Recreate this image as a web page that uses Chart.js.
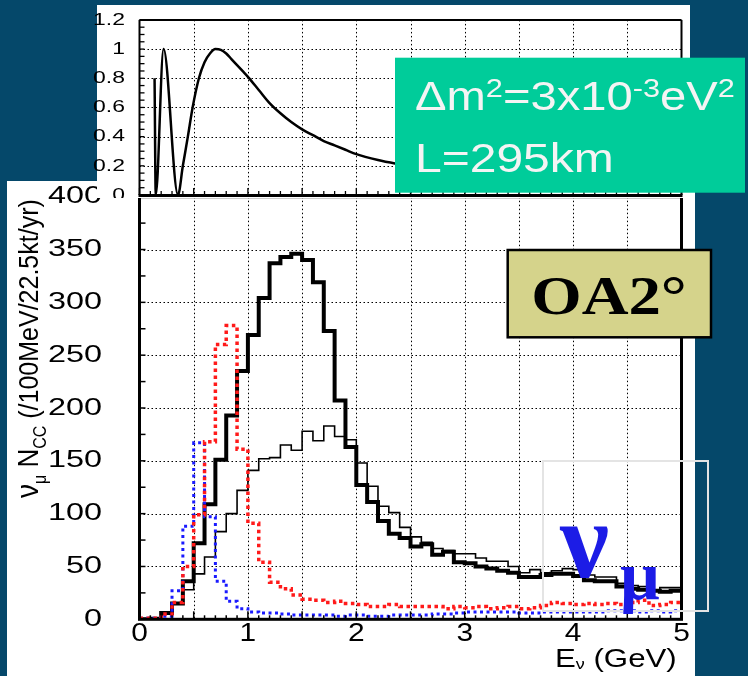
<!DOCTYPE html>
<html>
<head>
<meta charset="utf-8">
<script src="https://cdn.jsdelivr.net/npm/chart.js@4/dist/chart.umd.min.js"></script>
<style>
  html, body { margin: 0; padding: 0; background: #05486a; }
  #wrap { position: relative; width: 748px; height: 676px; overflow: hidden; }
  canvas { position: absolute; left: 0; }
  #spectrum { top: 181px; }
  #prob { top: 0; }
</style>
</head>
<body>
<div id="wrap">
  <canvas id="spectrum" width="748" height="495"></canvas>
  <canvas id="prob" width="748" height="198"></canvas>
</div>
<script>
// oscillation probability
const oscE = [0.139, 0.150, 0.222, 0.355, 0.40, 0.446, 0.49, 0.548, 0.60, 0.65, 0.70, 0.75, 0.80, 0.85, 0.90, 0.95,
  1.00, 1.10, 1.20, 1.30, 1.40, 1.50, 1.60, 1.70, 1.80, 1.90, 2.00, 2.20, 2.40, 2.70, 3.00, 3.50, 4.00, 4.50, 5.00];
const oscP = [0.80, 0.00, 1.00, 0.00, 0.20, 0.40, 0.60, 0.80, 0.91, 0.97, 1.00, 0.995, 0.97, 0.93, 0.89, 0.85,
  0.81, 0.72, 0.63, 0.56, 0.50, 0.45, 0.41, 0.37, 0.34, 0.31, 0.28, 0.24, 0.21, 0.17, 0.14, 0.10, 0.08, 0.06, 0.05];

// spectra per 100 MeV bin, 0 - 5 GeV
const thickSpec = [0, 0.5, 6, 15, 36, 72, 109, 151, 193, 235,
  269, 304, 337, 343, 346, 340, 319, 273, 207, 163,
  127, 111, 93, 81, 77, 69, 71, 61, 64, 54,
  53, 50, 48, 46, 44, 40, 40, 42, 43, 43,
  41, 37, 36, 36, 31, 29, 28, 27, 26, 27];
const thinSpec = [0, 0.5, 5, 15, 28, 43, 59, 83, 100, 122,
  141, 152, 153, 165, 160, 178, 169, 183, 173, 170,
  148, 126, 107, 101, 87, 78, 73, 67, 65, 62,
  62, 58, 55, 55, 50, 44, 47, 44, 46, 48,
  47, 42, 40, 40, 34, 32, 31, 28, 30, 30];
const redSpec = [1, 1, 5, 16, 50, 99, 168, 260, 278, 161,
  91, 54, 35, 29, 23, 19, 18, 16, 17, 15,
  14, 12, 12, 14, 12, 12, 12, 12, 10, 12,
  11, 12, 10, 11, 12, 10, 11, 13, 16, 15,
  14, 15, 14, 15, 14, 16, 18, 13, 14, 16];
const blueSpec = [1, 1, 3, 27, 88, 167, 97, 36, 17, 10,
  7, 6, 6, 5, 4, 4, 4, 4, 3, 4,
  4, 3, 3, 4, 4, 4, 4, 5, 5, 6,
  7, 7, 7, 7, 7, 6, 6, 7, 7, 7,
  7, 7, 7, 8, 8, 8, 7, 8, 7, 8];

const specYTicks = [0, 50, 100, 150, 200, 250, 300, 350, 400];
const specXTicks = [0, 1, 2, 3, 4, 5];
const probYTicks = [0, 0.2, 0.4, 0.6, 0.8, 1, 1.2];

const binEdges = thickSpec.map((_, i) => i / 10);

const FONT = '"Liberation Sans", Arial, sans-serif';
const SERIF = '"Liberation Serif", "Times New Roman", serif';

function steps(values) {
  const pts = values.map((v, i) => ({ x: binEdges[i], y: v }));
  pts.push({ x: 5, y: values[values.length - 1] });
  return pts;
}

function line(ctx, x1, y1, x2, y2) {
  ctx.beginPath();
  ctx.moveTo(x1, y1);
  ctx.lineTo(x2, y2);
  ctx.stroke();
}

function stretchText(ctx, str, x, y, font, align, sx) {
  ctx.save();
  ctx.font = font;
  ctx.textAlign = align;
  ctx.textBaseline = 'middle';
  ctx.translate(x, y);
  ctx.scale(sx, 1);
  ctx.fillText(str, 0, 0);
  ctx.restore();
}

// text made of runs (subscripts, superscripts), left aligned on a baseline
function runs(ctx, parts, sx) {
  let cx = 0;
  ctx.save();
  ctx.scale(sx, 1);
  ctx.textAlign = 'left';
  ctx.textBaseline = 'alphabetic';
  parts.forEach(p => {
    ctx.font = p.font;
    ctx.fillText(p.t, cx, p.dy || 0);
    cx += ctx.measureText(p.t).width;
  });
  ctx.restore();
}

// dotted grid on the inner ticks of both scales
function dottedGrid(chart) {
  const { ctx, chartArea: a, scales: { x, y } } = chart;
  ctx.save();
  ctx.strokeStyle = '#000';
  ctx.lineWidth = 1;
  ctx.setLineDash([1.5, 2.5]);
  x.ticks.forEach(t => {
    if (t.value <= x.min || t.value >= x.max) return;
    const px = Math.round(x.getPixelForValue(t.value)) + 0.5;
    line(ctx, px, a.top, px, a.bottom);
  });
  y.ticks.forEach(t => {
    if (t.value <= y.min || t.value >= y.max) return;
    const py = Math.round(y.getPixelForValue(t.value)) + 0.5;
    line(ctx, a.left, py, a.right, py);
  });
  ctx.restore();
}

const noGrid = { display: false };

const spectrumDecor = {
  id: 'spectrumDecor',
  beforeDraw(chart) {
    const ctx = chart.ctx;
    ctx.save();
    ctx.fillStyle = '#fff';
    ctx.fillRect(7, 0, 688, 495);
    ctx.restore();
  },
  beforeDatasetsDraw(chart) {
    dottedGrid(chart);
  },
  afterDraw(chart) {
    const { ctx, chartArea: a, scales: { x, y } } = chart;
    ctx.save();
    ctx.strokeStyle = '#000';
    ctx.fillStyle = '#000';

    // small ticks
    ctx.lineWidth = 1.5;
    for (let v = 0; v <= 400; v += 25) {
      const py = y.getPixelForValue(v);
      line(ctx, a.left, py, a.left + 6, py);
    }
    binEdges.concat([5]).forEach((e, k) => {
      const px = x.getPixelForValue(e);
      line(ctx, px, a.bottom, px, a.bottom - (k % 5 === 0 ? 8 : 4));
    });

    ctx.lineWidth = 3;
    ctx.strokeRect(a.left, a.top, a.right - a.left, a.bottom - a.top);

    // tick labels
    specYTicks.forEach(v => {
      stretchText(ctx, String(v), 102, y.getPixelForValue(v), '24px ' + FONT, 'right', 1.35);
    });
    specXTicks.forEach(v => {
      stretchText(ctx, String(v), x.getPixelForValue(v), 453, '26px ' + FONT, 'center', 1.15);
    });

    // x title
    ctx.save();
    ctx.translate(555, 486);
    runs(ctx, [
      { t: 'E', font: '26px ' + FONT },
      { t: '\u03bd', font: '15px ' + FONT, dy: 2 },
      { t: ' (GeV)', font: '26px ' + FONT }
    ], 1.2);
    ctx.restore();

    // y title
    ctx.save();
    ctx.translate(38, 317);
    ctx.rotate(-Math.PI / 2);
    ctx.scale(1, 1.1);
    runs(ctx, [
      { t: '\u03bd', font: '28px ' + FONT },
      { t: '\u03bc', font: '16px ' + FONT, dy: 7 },
      { t: ' N', font: '26px ' + FONT },
      { t: 'CC', font: '16px ' + FONT, dy: 7 },
      { t: ' (/100MeV/22.5kt/yr)', font: '25px ' + FONT }
    ], 1);
    ctx.restore();

    // OA2° box
    ctx.fillStyle = '#d5d38b';
    ctx.fillRect(507.7, 69, 203.3, 87.3);
    ctx.lineWidth = 2.5;
    ctx.strokeRect(507.7, 69, 203.3, 87.3);
    ctx.fillStyle = '#000';
    ctx.save();
    ctx.font = 'bold 54px ' + SERIF;
    ctx.textAlign = 'center';
    ctx.textBaseline = 'alphabetic';
    ctx.translate(609, 133);
    ctx.scale(1.2, 1);
    ctx.fillText('OA2\u00b0', 0, 0);
    ctx.restore();

    // nu_mu label and its frame
    ctx.strokeStyle = '#e4e4e4';
    ctx.lineWidth = 2;
    ctx.strokeRect(543, 280, 165, 150);
    ctx.fillStyle = '#1c1ce6';
    ctx.font = 'bold 110px ' + SERIF;
    ctx.textBaseline = 'alphabetic';
    ctx.textAlign = 'left';
    ctx.fillText('\u03bd', 560, 396);
    ctx.font = 'bold 70px ' + SERIF;
    ctx.fillText('\u03bc', 620, 418);
    ctx.restore();
  }
};

new Chart(document.getElementById('spectrum'), {
  type: 'line',
  data: {
    datasets: [
      { data: steps(redSpec), stepped: 'before', borderColor: '#ff1a1a', borderWidth: 3.5, borderDash: [3.5, 3.5], pointRadius: 0, order: 1 },
      { data: steps(blueSpec), stepped: 'before', borderColor: '#1a1aff', borderWidth: 3, borderDash: [3, 3.5], pointRadius: 0, order: 2 },
      { data: steps(thickSpec), stepped: 'before', borderColor: '#000', borderWidth: 4, pointRadius: 0, order: 3 },
      { data: steps(thinSpec), stepped: 'before', borderColor: '#000', borderWidth: 1.6, pointRadius: 0, order: 4 }
    ]
  },
  options: {
    responsive: false,
    animation: false,
    devicePixelRatio: 1,
    layout: { padding: { left: 0, right: 66.5, top: 15.7, bottom: 0 } },
    plugins: { legend: { display: false }, tooltip: { enabled: false } },
    scales: {
      x: {
        type: 'linear', min: 0, max: 5,
        ticks: { display: false, stepSize: 0.5 },
        grid: noGrid,
        border: { display: false },
        afterFit: s => { s.height = 56.7; }
      },
      y: {
        min: 0, max: 400,
        ticks: { display: false, stepSize: 50 },
        grid: noGrid,
        border: { display: false },
        afterFit: s => { s.width = 139.5; }
      }
    }
  },
  plugins: [spectrumDecor]
});

const probDecor = {
  id: 'probDecor',
  beforeDraw(chart) {
    const ctx = chart.ctx;
    ctx.save();
    ctx.fillStyle = '#fff';
    ctx.fillRect(97, 5, 593, 193);
    ctx.restore();
  },
  beforeDatasetsDraw(chart) {
    dottedGrid(chart);
  },
  afterDraw(chart) {
    const { ctx, chartArea: a, scales: { x, y } } = chart;
    ctx.save();
    ctx.strokeStyle = '#000';
    ctx.fillStyle = '#000';

    ctx.lineWidth = 1.3;
    for (let v = 0; v <= 1.2001; v += 0.05) {
      const py = y.getPixelForValue(v);
      line(ctx, a.left, py, a.left + 5, py);
    }
    binEdges.concat([5]).forEach((e, k) => {
      const px = x.getPixelForValue(e);
      line(ctx, px, a.bottom, px, a.bottom - (k % 5 === 0 ? 7 : 4));
    });

    ctx.lineWidth = 2;
    line(ctx, a.left, a.top, a.right, a.top);
    line(ctx, a.left, a.top, a.left, a.bottom);
    line(ctx, a.right, a.top, a.right, a.bottom);
    ctx.lineWidth = 3;
    line(ctx, a.left - 1, a.bottom + 0.5, a.right + 1, a.bottom + 0.5);

    probYTicks.forEach(v => {
      stretchText(ctx, String(v), 125, y.getPixelForValue(v), '17px ' + FONT, 'right', 1.35);
    });

    // parameter box
    ctx.fillStyle = '#00cc9a';
    ctx.fillRect(395, 57.7, 350, 135);
    ctx.fillStyle = '#f4f4f4';
    ctx.save();
    ctx.translate(415, 110);
    runs(ctx, [
      { t: '\u0394m', font: '40px ' + FONT },
      { t: '2', font: '26px ' + FONT, dy: -13 },
      { t: '=3x10', font: '40px ' + FONT },
      { t: '-3', font: '26px ' + FONT, dy: -13 },
      { t: 'eV', font: '40px ' + FONT },
      { t: '2', font: '26px ' + FONT, dy: -13 }
    ], 1.18);
    ctx.restore();
    ctx.save();
    ctx.translate(415, 171.7);
    runs(ctx, [{ t: 'L=295km', font: '40px ' + FONT }], 1.2);
    ctx.restore();
    ctx.restore();
  }
};

new Chart(document.getElementById('prob'), {
  type: 'line',
  data: {
    datasets: [{
      data: oscE.map((e, i) => ({ x: e, y: oscP[i] })),
      borderColor: '#000', borderWidth: 2.5, pointRadius: 0,
      cubicInterpolationMode: 'monotone'
    }]
  },
  options: {
    responsive: false,
    animation: false,
    devicePixelRatio: 1,
    layout: { padding: { left: 0, right: 66.5, top: 19.9, bottom: 3 } },
    plugins: { legend: { display: false }, tooltip: { enabled: false } },
    scales: {
      x: {
        type: 'linear', min: 0, max: 5,
        ticks: { display: false, stepSize: 0.5 },
        grid: noGrid,
        border: { display: false },
        afterFit: s => { s.height = 0; }
      },
      y: {
        min: 0, max: 1.2,
        ticks: { display: false, stepSize: 0.2 },
        grid: noGrid,
        border: { display: false },
        afterFit: s => { s.width = 139.5; }
      }
    }
  },
  plugins: [probDecor]
});
</script>
</body>
</html>
